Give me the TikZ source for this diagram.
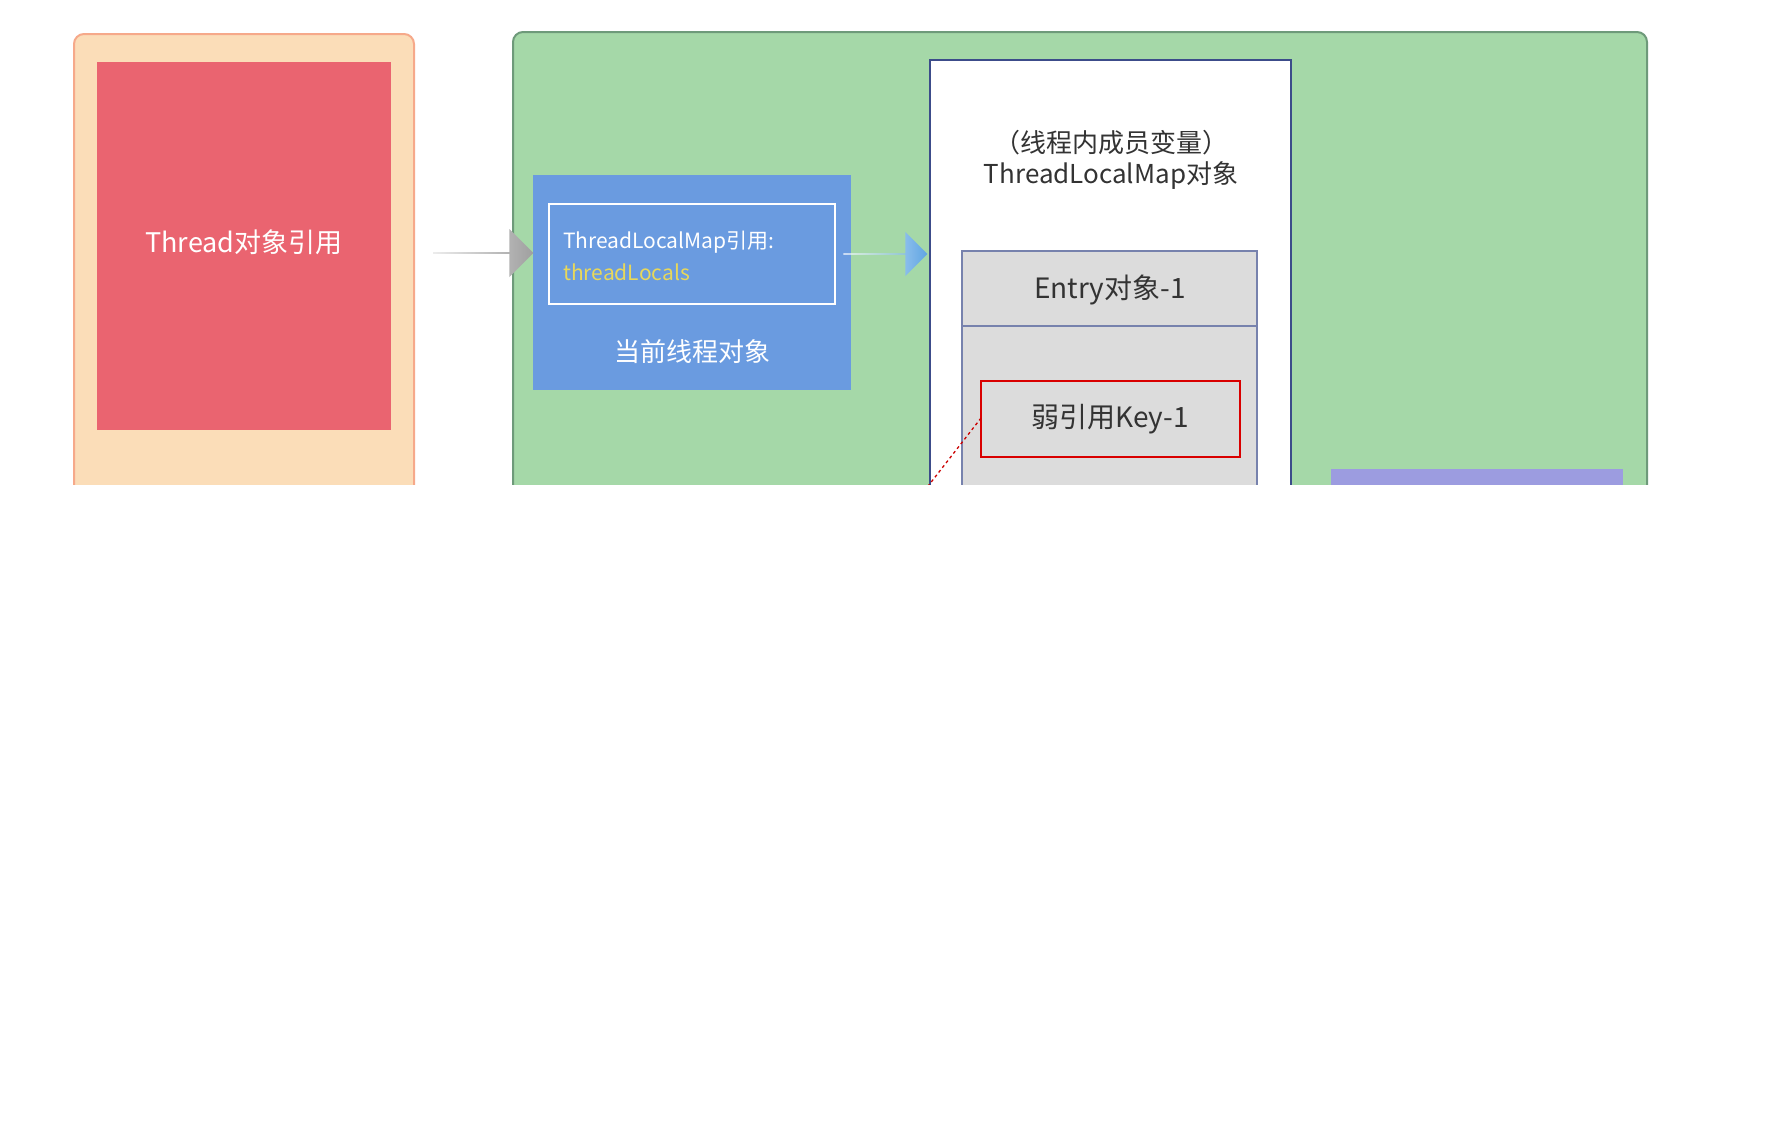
\documentclass[tikz,border=0pt]{standalone}
\usepackage{fontspec}
\setmainfont{Noto Sans CJK SC}
\usetikzlibrary{shapes.arrows}
\definecolor{orangebg}{HTML}{FBDDB8}
\definecolor{orangeln}{HTML}{F6A98A}
\definecolor{redbox}{HTML}{EA6470}
\definecolor{greenbg}{HTML}{A5D8A8}
\definecolor{greenln}{HTML}{6E9A7A}
\definecolor{bluebox}{HTML}{6A9BE0}
\definecolor{navy}{HTML}{3C4C8A}
\definecolor{greyentry}{HTML}{DCDCDC}
\definecolor{purplebox}{HTML}{9C9CE0}
\definecolor{yel}{HTML}{E8D85A}
\tikzset{
  txt/.style={inner sep=0pt, align=center},
  bigarrow/.style={single arrow, minimum height=#1, single arrow head extend=6pt, inner sep=0pt, minimum width=48pt, draw=none},
}
\begin{document}
\begin{tikzpicture}[x=1pt,y=-1pt]
\useasboundingbox (0,0) rectangle (1774,1146);
\fill[white] (0,0) rectangle (1774,1146);
\begin{scope}
\clip (0,0) rectangle (1774,484);
\draw[orangeln, fill=orangebg, line width=2pt, rounded corners=10pt] (74,34) rectangle (414,520);
\fill[redbox] (97,62) rectangle (391,430);
\node[txt, white, font=\fontsize{27}{30}\selectfont] (thr) at (244,242) {Thread对象引用};
\draw[greenln, fill=greenbg, line width=2pt, rounded corners=10pt] (513,32) rectangle (1647,520);
\fill[bluebox] (533,175) rectangle (851,390);
\draw[white, line width=1.3pt] (549,204) rectangle (835,304);
\node[txt, white, anchor=west, font=\fontsize{21}{24}\selectfont] (tlm) at (563,242) {ThreadLocalMap引用:};
\node[txt, yel, anchor=west, font=\fontsize{21}{24}\selectfont] (tls) at (563,272) {threadLocals};
\node[txt, white, font=\fontsize{26}{30}\selectfont] (cur) at (692,352) {当前线程对象};
\draw[navy, fill=white, line width=2pt] (930,60) rectangle (1291,520);
\node[txt, black!80, font=\fontsize{26}{31}\selectfont] (map) at (1111,160) {（线程内成员变量）\\ThreadLocalMap对象};
\draw[navy!70, fill=greyentry, line width=1.5pt] (962,326) rectangle (1257,520);
\draw[navy!70, fill=greyentry, line width=1.5pt] (962,251) rectangle (1257,326);
\node[txt, black!80, font=\fontsize{28}{32}\selectfont] (entry) at (1110,290) {Entry对象-1};
\draw[red!85!black, fill=greyentry, line width=1.5pt] (981,381) rectangle (1240,457);
\node[txt, black!80, font=\fontsize{28}{32}\selectfont] (key) at (1110,419) {弱引用Key-1};
\coordinate (keyw) at (981,418);
\coordinate (dend) at (925,490);
\draw[red!80!black, dashed, line width=1.3pt] (keyw) -- (dend);
\fill[purplebox] (1331,469) rectangle (1623,520);
\node[bigarrow=100pt, left color=gray!15, right color=gray!75, shading angle=90] (ga) at (483,253) {};
\node[bigarrow=84pt, minimum width=44pt, left color=white, right color=bluebox!90!cyan] (ba) at (885,254) {};
\end{scope}
\end{tikzpicture}
\end{document}
